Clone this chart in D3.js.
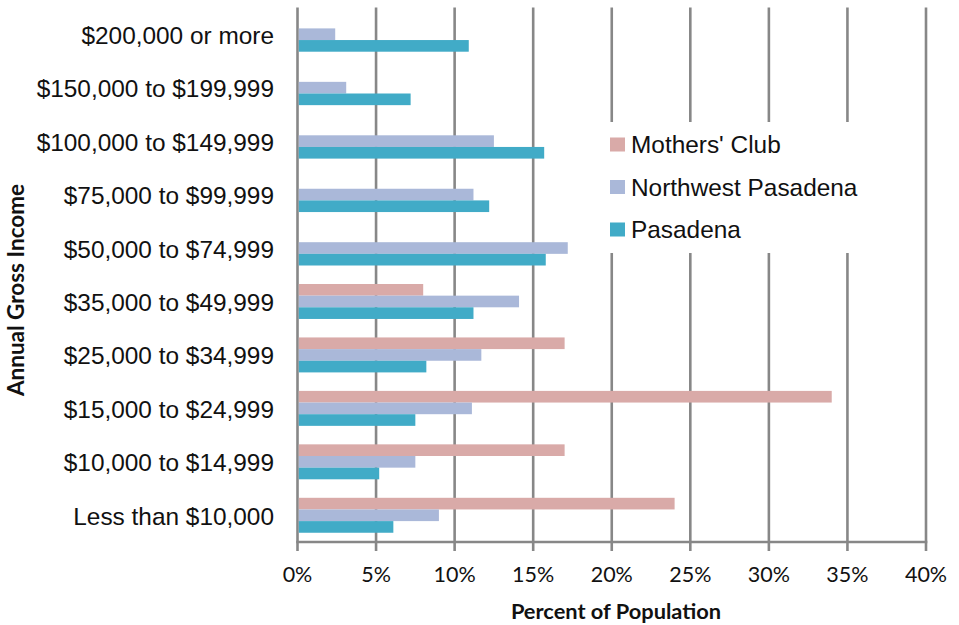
<!DOCTYPE html>
<html>
<head>
<meta charset="utf-8">
<script src="https://cdn.jsdelivr.net/npm/d3@7"></script>
<style>
  html, body { margin: 0; padding: 0; background: #fff; }
  svg { display: block; }
</style>
</head>
<body>
<svg id="chart" width="959" height="625"></svg>
<script>
// ---- data ----
const categories = [
  "$200,000 or more",
  "$150,000 to $199,999",
  "$100,000 to $149,999",
  "$75,000 to $99,999",
  "$50,000 to $74,999",
  "$35,000 to $49,999",
  "$25,000 to $34,999",
  "$15,000 to $24,999",
  "$10,000 to $14,999",
  "Less than $10,000"
];
const seriesNames = ["Mothers' Club", "Northwest Pasadena", "Pasadena"];
const mothersClub       = [null, null, null, null, null, 8.0, 17.0, 34.0, 17.0, 24.0];
const northwestPasadena = [2.4, 3.1, 12.5, 11.2, 17.2, 14.1, 11.7, 11.1, 7.5, 9.0];
const pasadena          = [10.9, 7.2, 15.7, 12.2, 15.8, 11.2, 8.2, 7.5, 5.2, 6.1];
const xTicks = [0, 5, 10, 15, 20, 25, 30, 35, 40];
const seriesColors = ["#D9AAA8", "#AAB8D9", "#41ABC7"];

const seriesValues = [mothersClub, northwestPasadena, pasadena];

// ---- layout ----
const svg = d3.select("#chart");
const plot = { left: 297.5, right: 926, top: 7.5, bottom: 542 };

const x = d3.scaleLinear().domain([0, 40]).range([plot.left, plot.right]);
const y = d3.scaleBand().domain(categories).range([plot.top, plot.bottom])
  .paddingInner(0.346).paddingOuter(0.173);
const ySub = d3.scaleBand().domain(seriesNames).range([0, y.bandwidth()]);

const gridColor = "#878787";

// gridlines
svg.append("g").selectAll("line").data(xTicks).join("line")
  .attr("x1", d => x(d)).attr("x2", d => x(d))
  .attr("y1", plot.top).attr("y2", plot.bottom + 9)
  .attr("stroke", gridColor).attr("stroke-width", 2.6);

// bottom axis line
svg.append("line")
  .attr("x1", x(0) - 1.3).attr("x2", x(40) + 1.3)
  .attr("y1", plot.bottom).attr("y2", plot.bottom)
  .attr("stroke", gridColor).attr("stroke-width", 2.6);

// legend background (covers gridlines)
svg.append("rect")
  .attr("x", 600).attr("y", 122).attr("width", 275).attr("height", 131)
  .attr("fill", "#fff");

// bars
const rows = [];
categories.forEach((c, i) => {
  seriesNames.forEach((s, j) => {
    const v = seriesValues[j][i];
    if (v != null) rows.push({ cat: c, series: s, value: v, color: seriesColors[j] });
  });
});
svg.append("g").selectAll("rect").data(rows).join("rect")
  .attr("x", x(0) + 1.3)
  .attr("y", d => y(d.cat) + ySub(d.series))
  .attr("width", d => x(d.value) - x(0) - 1.3)
  .attr("height", ySub.bandwidth())
  .attr("fill", d => d.color);

// x tick labels
svg.append("g").selectAll("text").data(xTicks).join("text")
  .attr("x", d => x(d)).attr("y", 582)
  .attr("text-anchor", "middle")
  .attr("font-family", "Lato, 'Open Sans', sans-serif")
  .attr("font-size", 21.5)
  .attr("fill", "#111")
  .text(d => d + "%");

// y category labels
svg.append("g").selectAll("text").data(categories).join("text")
  .attr("x", 274)
  .attr("y", d => y(d) + y.bandwidth() / 2 + 9.5)
  .attr("text-anchor", "end")
  .attr("font-family", "'Liberation Sans', Arial, sans-serif")
  .attr("font-size", 24.4)
  .attr("fill", "#111")
  .text(d => d);

// axis titles
svg.append("text")
  .attr("x", 616).attr("y", 619)
  .attr("text-anchor", "middle")
  .attr("font-family", "Lato, 'Open Sans', sans-serif")
  .attr("font-weight", "bold")
  .attr("font-size", 21.8)
  .attr("fill", "#111")
  .text("Percent of Population");

svg.append("text")
  .attr("transform", "translate(24,290) rotate(-90)")
  .attr("text-anchor", "middle")
  .attr("font-family", "Lato, 'Open Sans', sans-serif")
  .attr("font-weight", "bold")
  .attr("font-size", 22.5)
  .attr("fill", "#111")
  .text("Annual Gross Income");

// legend
const legend = svg.append("g").selectAll("g").data(seriesNames).join("g")
  .attr("transform", (d, i) => `translate(610, ${137.5 + i * 42.5})`);
legend.append("rect")
  .attr("width", 15).attr("height", 14)
  .attr("fill", (d, i) => seriesColors[i]);
legend.append("text")
  .attr("x", 21).attr("y", 15.5)
  .attr("font-family", "'Liberation Sans', Arial, sans-serif")
  .attr("font-size", 24.4)
  .attr("fill", "#111")
  .text(d => d);
</script>
</body>
</html>
